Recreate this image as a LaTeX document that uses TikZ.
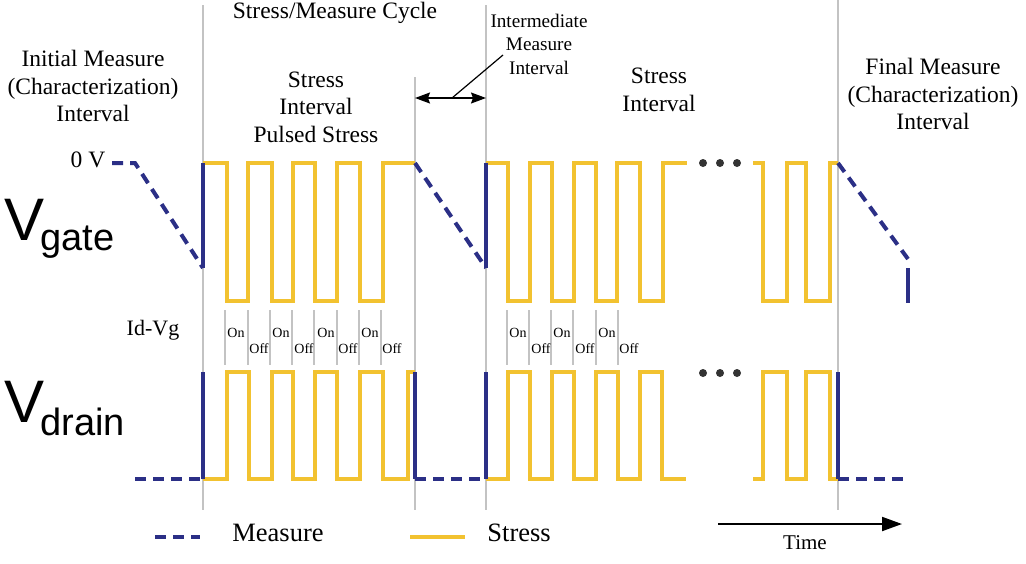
\documentclass[tikz,border=0pt]{standalone}
\usepackage{fontspec}
\setmainfont{Liberation Serif}
\newfontfamily\vfont{Liberation Sans}
\usetikzlibrary{
    arrows.meta,
    positioning,
    calc
}
\definecolor{measblue}{RGB}{43,47,134}
\definecolor{stressyel}{RGB}{242,194,48}
\definecolor{divgray}{RGB}{195,195,195}

\begin{document}
\begin{tikzpicture}[x=0.5pt, y=-0.5pt,
        stress/.style={stressyel, line width=1.9pt},
        meas/.style={measblue, line width=2pt, dash pattern=on 5.5pt off 3.5pt},
        measedge/.style={measblue, line width=2pt},
        divider/.style={divgray, line width=0.8pt},
        onofftick/.style={divgray, line width=0.7pt},
        lbl/.style={align=center, inner sep=0pt, font=\fontsize{11.75}{13.75}\selectfont},
        smalllbl/.style={align=center, inner sep=0pt, font=\fontsize{9.6}{11.75}\selectfont},
        onoff/.style={inner sep=0pt, font=\fontsize{7}{8}\selectfont},
        dot/.style={circle, fill=black!80, inner sep=0pt, minimum size=4pt}]
        \useasboundingbox (0,0) rectangle (1026,563);

        % interval dividers
        \draw [divider] (203,5) -- (203,510);
        \draw [divider] (415,77) -- (415,510);
        \draw [divider] (486,5) -- (486,510);
        \draw [divider] (838,0) -- (838,510);

        % interval labels
        \node [lbl] (cycle) at (335,13) {Stress/Measure Cycle};
        \node [lbl] (initial) at (93,86) {Initial Measure\\(Characterization)\\Interval};
        \node [lbl] (stressA) at (316,107) {Stress\\Interval\\Pulsed Stress};
        \node [smalllbl] (interm) at (539,44) {Intermediate\\Measure\\Interval};
        \node [lbl] (stressB) at (659,90) {Stress\\Interval};
        \node [lbl] (final) at (933,94) {Final Measure\\(Characterization)\\Interval};
        \node [lbl] (zerov) at (88,160) {0 V};

        % intermediate interval arrow
        \coordinate (intL) at (415,98);
        \coordinate (intR) at (486,98);
        \coordinate (intM) at (452,98);
        \draw [{Stealth[length=7.5pt,width=5.5pt,inset=1pt]}-{Stealth[length=7.5pt,width=5.5pt,inset=1pt]}, line width=0.7pt] (intL) -- (intR);
        \draw [line width=0.6pt] (intM) -- (503,55);

        % signal names
        \node [anchor=base west, inner sep=0pt] (vgate) at (4,240)
          {\vfont\fontsize{30}{30}\selectfont V\kern-2pt\raisebox{-5pt}{\fontsize{19}{19}\selectfont gate}};
        \node [anchor=base west, inner sep=0pt] (vdrain) at (4,422)
          {\vfont\fontsize{30}{30}\selectfont V\kern-2pt\raisebox{-6.5pt}{\fontsize{19}{19}\selectfont drain}};
        \node [inner sep=0pt, font=\fontsize{11}{12}\selectfont] (idvg) at (153,330) {Id-Vg};

        % on/off ticks
        \foreach \x in {225,248,270,292,314,337,359,381,507,529,551,573,596,618}{
          \draw [onofftick] (\x,310) -- (\x,365);
        }
        \foreach \x in {236,281,326,370,518,562,607}{
          \node [onoff] at (\x,333) {On};
        }
        \foreach \x in {259,304,348,392,541,585,629}{
          \node [onoff] at (\x,349) {Off};
        }

        % gate stress pulses
        \draw [stress] (203,163)
          \foreach \a/\b in {227/248,272/293,315/337,360/383}{
            -- (\a,163) -- (\a,301) -- (\b,301) -- (\b,163)
          } -- (415,163);
        \draw [stress] (486,163)
          \foreach \a/\b in {508/530,552/574,596/617,640/663}{
            -- (\a,163) -- (\a,301) -- (\b,301) -- (\b,163)
          } -- (687,163);
        \draw [stress] (753,163)
          \foreach \a/\b in {763/787,806/830}{
            -- (\a,163) -- (\a,301) -- (\b,301) -- (\b,163)
          } -- (838,163);

        % drain stress pulses
        \draw [stress] (203,479)
          \foreach \a/\b in {227/249,272/293,315/337,360/383}{
            -- (\a,479) -- (\a,372) -- (\b,372) -- (\b,479)
          } -- (408,479) -- (408,372) -- (415,372);
        \draw [stress] (486,479)
          \foreach \a/\b in {508/530,552/574,596/618,640/662}{
            -- (\a,479) -- (\a,372) -- (\b,372) -- (\b,479)
          } -- (686,479);
        \draw [stress] (753,479)
          \foreach \a/\b in {763/787,806/830}{
            -- (\a,479) -- (\a,372) -- (\b,372) -- (\b,479)
          } -- (838,479);

        % gate measure
        \draw [meas] (112,163) -- (135,163) -- (203,268);
        \draw [measedge] (203,268) -- (203,163);
        \draw [meas] (415,163) -- (486,268);
        \draw [measedge] (486,268) -- (486,163);
        \draw [meas] (838,163) -- (908,259);
        \draw [measedge] (908,268) -- (908,303);

        % drain measure
        \draw [meas] (135,479) -- (203,479);
        \draw [measedge] (203,479) -- (203,372);
        \draw [measedge] (415,372) -- (415,479);
        \draw [meas] (415,479) -- (486,479);
        \draw [measedge] (486,479) -- (486,372);
        \draw [measedge] (838,372) -- (838,479);
        \draw [meas] (838,479) -- (908,479);

        % dots
        \foreach \x in {703,720,737}{
          \node [dot] (gdot\x) at (\x,163) {};
          \node [dot] (ddot\x) at (\x,373) {};
        }

        % legend
        \coordinate (measA) at (155,537);
        \coordinate (measB) at (200,537);
        \coordinate (stressA0) at (410,537);
        \coordinate (stressB0) at (465,537);
        \draw [meas] (measA) -- (measB);
        \node [lbl, font=\fontsize{13.25}{15}\selectfont, right=16pt of measB, yshift=2pt] (measlbl) {Measure};
        \draw [stress] (stressA0) -- (stressB0);
        \node [lbl, font=\fontsize{13.25}{15}\selectfont, right=11pt of stressB0, yshift=2pt] (stresslbl) {Stress};

        % time axis
        \coordinate (timeA) at (718,524);
        \coordinate (timeB) at (902,524);
        \draw [-{Triangle[length=10pt,width=7pt]}, line width=1pt] (timeA) -- (timeB);
        \node [lbl, font=\fontsize{10.5}{12}\selectfont] (timelbl) at (805,543) {Time};

        \end{tikzpicture}
\end{document}
